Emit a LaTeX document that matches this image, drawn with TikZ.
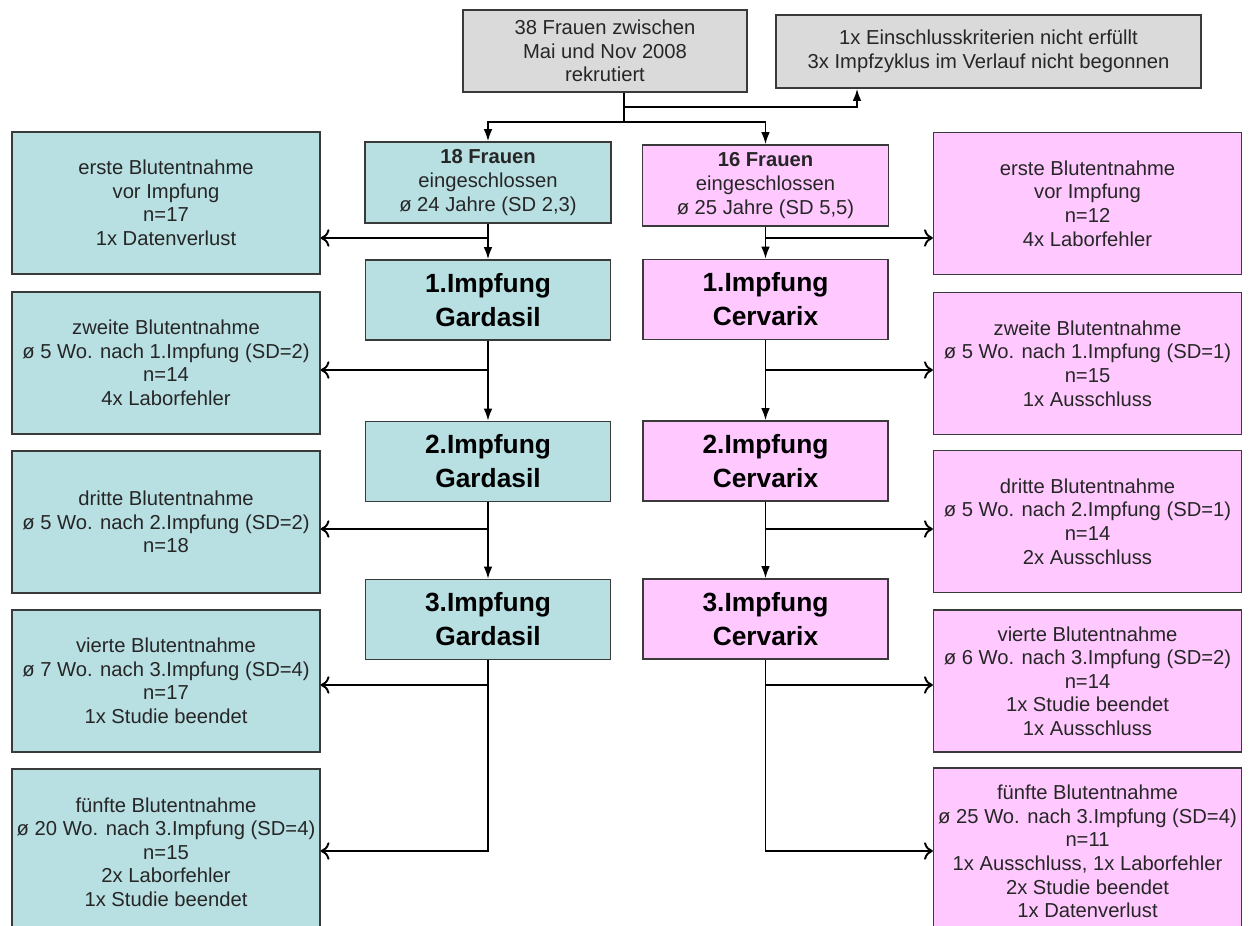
\documentclass[tikz,border=0pt]{standalone}
\usepackage{fontspec}
\setmainfont{Liberation Sans}
\usepackage{tikz}
\usepackage{xcolor}
\usetikzlibrary{arrows.meta, positioning}
\definecolor{greyfill}{HTML}{DADADA}
\definecolor{gardfill}{HTML}{B8DFE2}
\definecolor{cervfill}{HTML}{FFC9FF}
\definecolor{boxline}{HTML}{3A3A3A}
\newcommand{\boxfont}{\fontsize{11.5}{13.4}\selectfont}
\newcommand{\impffont}{\fontsize{15}{19.3}\selectfont\bfseries}
\tikzstyle{box} = [draw=boxline,line width=0.8pt,align=center,inner sep=1pt,text=black!85,font=\boxfont]
\tikzstyle{infobox} = [box,fill=greyfill]
\tikzstyle{gard} = [box,fill=gardfill]
\tikzstyle{cerv} = [box,fill=cervfill]
\tikzstyle{impf} = [minimum width=4.9cm,minimum height=1.6cm,text=black,font=\impffont]
\tikzstyle{blood} = [minimum width=6.16cm,minimum height=2.84cm]
\tikzstyle{dnarrow} = [line width=1.1pt,-{Latex[length=7pt,width=5pt]}]
\tikzstyle{sidearrow} = [line width=1.1pt,-{To[length=5pt,width=10pt]}]

\begin{document}
\begin{tikzpicture}[x=0.02cm,y=-0.02cm]
    \clip (0,0) rectangle (1252,926);

    % recruitment
    \node[infobox, minimum width=5.68cm, minimum height=1.64cm] (total) at (605,51) {38 Frauen zwischen\\Mai und Nov 2008\\rekrutiert};
    \node[infobox, minimum width=8.5cm, minimum height=1.46cm] (excl) at (988.5,51.5) {1x Einschlusskriterien nicht erfüllt\\3x Impfzyklus im Verlauf nicht begonnen};

    % groups
    \node[gard, minimum width=4.92cm, minimum height=1.62cm] (frauenL) at (488,182.5) {\textbf{18 Frauen}\\eingeschlossen\\ø 24 Jahre (SD 2,3)};
    \node[cerv, minimum width=4.92cm, minimum height=1.62cm] (frauenR) at (765.5,185.5) {\textbf{16 Frauen}\\eingeschlossen\\ø 25 Jahre (SD 5,5)};

    \node[gard, impf] (impfL1) at (488,300) {1.Impfung\\Gardasil};
    \node[gard, impf] (impfL2) at (488,461.5) {2.Impfung\\Gardasil};
    \node[gard, impf] (impfL3) at (488,619.5) {3.Impfung\\Gardasil};
    \node[cerv, impf] (impfR1) at (765.5,299.5) {1.Impfung\\Cervarix};
    \node[cerv, impf] (impfR2) at (765.5,461) {2.Impfung\\Cervarix};
    \node[cerv, impf] (impfR3) at (765.5,619) {3.Impfung\\Cervarix};

    % blood samples
    \node[gard, blood] (bloodL1) at (166,203) {erste Blutentnahme\\vor Impfung\\n=17\\1x Datenverlust};
    \node[gard, blood] (bloodL2) at (166,363) {zweite Blutentnahme\\ø 5 Wo. nach 1.Impfung (SD=2)\\n=14\\4x Laborfehler};
    \node[gard, blood] (bloodL3) at (166,522) {dritte Blutentnahme\\ø 5 Wo. nach 2.Impfung (SD=2)\\n=18};
    \node[gard, blood] (bloodL4) at (166,681) {vierte Blutentnahme\\ø 7 Wo. nach 3.Impfung (SD=4)\\n=17\\1x Studie beendet};
    \node[gard, blood, minimum height=3.32cm] (bloodL5) at (166,852) {fünfte Blutentnahme\\ø 20 Wo. nach 3.Impfung (SD=4)\\n=15\\2x Laborfehler\\1x Studie beendet};

    \node[cerv, blood] (bloodR1) at (1087.5,203.5) {erste Blutentnahme\\vor Impfung\\n=12\\4x Laborfehler};
    \node[cerv, blood] (bloodR2) at (1087.5,363.5) {zweite Blutentnahme\\ø 5 Wo. nach 1.Impfung (SD=1)\\n=15\\1x Ausschluss};
    \node[cerv, blood] (bloodR3) at (1087.5,521.5) {dritte Blutentnahme\\ø 5 Wo. nach 2.Impfung (SD=1)\\n=14\\2x Ausschluss};
    \node[cerv, blood] (bloodR4) at (1087.5,681) {vierte Blutentnahme\\ø 6 Wo. nach 3.Impfung (SD=2)\\n=14\\1x Studie beendet\\1x Ausschluss};
    \node[cerv, blood, minimum height=3.34cm] (bloodR5) at (1087.5,851.5) {fünfte Blutentnahme\\ø 25 Wo. nach 3.Impfung (SD=4)\\n=11\\1x Ausschluss, 1x Laborfehler\\2x Studie beendet\\1x Datenverlust};

    % split after recruitment
    \coordinate (split) at (624,107);
    \coordinate (fork) at (624,122);
    \draw[line width=1.1pt] (total.south -| split) -- (fork);
    \draw[dnarrow] (split) -| ([xshift=-2.63cm]excl.south);
    \draw[dnarrow] (fork) -| (frauenL.north);
    \draw[dnarrow] (fork) -| (frauenR.north);

    % vaccination chain
    \draw[dnarrow] (frauenL) -- (impfL1);
    \draw[dnarrow] (impfL1) -- (impfL2);
    \draw[dnarrow] (impfL2) -- (impfL3);
    \draw[dnarrow] (frauenR) -- (impfR1);
    \draw[dnarrow] (impfR1) -- (impfR2);
    \draw[dnarrow] (impfR2) -- (impfR3);

    % branches to the samples
    \foreach \from/\to/\y in {frauenL/bloodL1/238, impfL1/bloodL2/370, impfL2/bloodL3/529, impfL3/bloodL4/685}
        \draw[sidearrow] (\from.south |- 0,\y) -- (\to.east |- 0,\y);
    \foreach \from/\to/\y in {frauenR/bloodR1/238, impfR1/bloodR2/370, impfR2/bloodR3/529, impfR3/bloodR4/685}
        \draw[sidearrow] (\from.south |- 0,\y) -- (\to.west |- 0,\y);
    \draw[sidearrow] (impfL3.south) |- (bloodL5.east |- 0,851);
    \draw[sidearrow] (impfR3.south) |- (bloodR5.west |- 0,851);
\end{tikzpicture}
\end{document}
